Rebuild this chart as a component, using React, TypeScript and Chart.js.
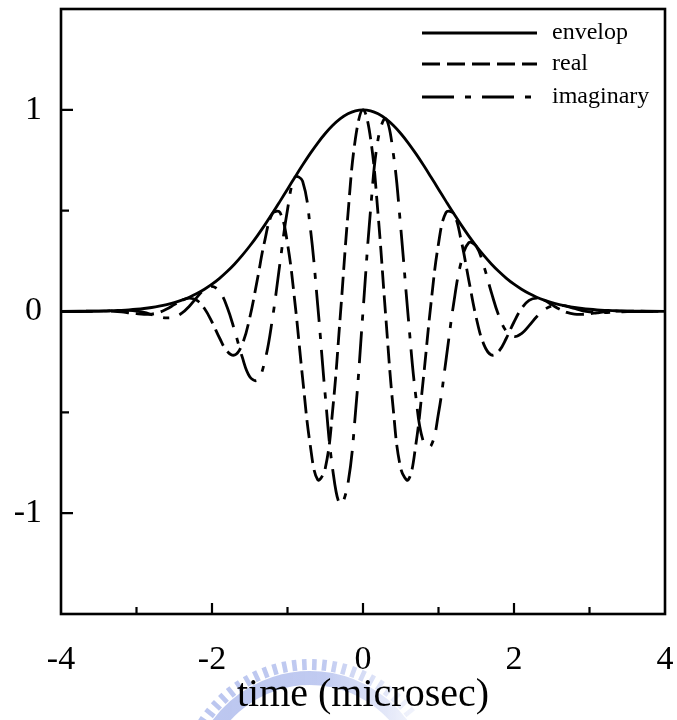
import React, { useEffect, useRef } from 'react';
import { Chart, registerables } from 'chart.js';

Chart.register(...registerables);

// time axis samples (microsec)
const time = [
  -4, -3.5, -3.4, -3.3, -3.2, -3.1, -3.0, -2.9, -2.8, -2.7, -2.6, -2.5, -2.4, -2.3, -2.2, -2.1,
  -2.0, -1.9, -1.8, -1.7, -1.6, -1.5, -1.4, -1.3, -1.2, -1.1, -1.0, -0.9, -0.8, -0.7, -0.6, -0.5,
  -0.4, -0.3, -0.2, -0.1, 0, 0.1, 0.2, 0.3, 0.4, 0.5, 0.6, 0.7, 0.8, 0.9, 1.0, 1.1, 1.2, 1.3, 1.4,
  1.5, 1.6, 1.7, 1.8, 1.9, 2.0, 2.1, 2.2, 2.3, 2.4, 2.5, 2.6, 2.7, 2.8, 2.9, 3.0, 3.1, 3.2, 3.3,
  3.4, 3.5, 4,
];

const envelop = [
  0.0003, 0.0022, 0.0031, 0.0043, 0.006, 0.0082, 0.0111, 0.0149, 0.0198, 0.0261, 0.034, 0.0439,
  0.0561, 0.071, 0.0889, 0.1103, 0.1353, 0.1645, 0.1979, 0.2357, 0.278, 0.3247, 0.3753, 0.4296,
  0.4868, 0.5461, 0.6065, 0.667, 0.7261, 0.7827, 0.8353, 0.8825, 0.9231, 0.956, 0.9802, 0.995, 1.0,
  0.995, 0.9802, 0.956, 0.9231, 0.8825, 0.8353, 0.7827, 0.7261, 0.667, 0.6065, 0.5461, 0.4868,
  0.4296, 0.3753, 0.3247, 0.278, 0.2357, 0.1979, 0.1645, 0.1353, 0.1103, 0.0889, 0.071, 0.0561,
  0.0439, 0.034, 0.0261, 0.0198, 0.0149, 0.0111, 0.0082, 0.006, 0.0043, 0.0031, 0.0022, 0.0003,
];

const real = [
  0.0, 0.0021, 0.0021, 0.0009, -0.0019, -0.0062, -0.0109, -0.0141, -0.0128, -0.0045, 0.0119, 0.034,
  0.0554, 0.066, 0.0548, 0.0148, -0.0521, -0.1314, -0.1966, -0.2157, -0.1629, -0.0311, 0.1578,
  0.3529, 0.4854, 0.491, 0.3362, 0.0384, -0.3304, -0.6597, -0.8347, -0.778, -0.4819, -0.0184,
  0.4792, 0.8585, 1.0, 0.8585, 0.4792, -0.0184, -0.4819, -0.778, -0.8347, -0.6597, -0.3304, 0.0384,
  0.3362, 0.491, 0.4854, 0.3529, 0.1578, -0.0311, -0.1629, -0.2157, -0.1966, -0.1314, -0.0521,
  0.0148, 0.0548, 0.066, 0.0554, 0.034, 0.0119, -0.0045, -0.0128, -0.0141, -0.0109, -0.0062,
  -0.0019, 0.0009, 0.0021, 0.0021, 0.0,
];

const imaginary = [
  0.0, 0.0006, 0.0023, 0.0042, 0.0057, 0.0054, 0.0021, -0.0049, -0.0151, -0.0257, -0.0319, -0.0277,
  -0.0086, 0.0261, 0.07, 0.1093, 0.1248, 0.0989, 0.0227, -0.095, -0.2253, -0.3232, -0.3405, -0.245,
  -0.0373, 0.2391, 0.5048, 0.6659, 0.6466, 0.4213, 0.0321, -0.4165, -0.7874, -0.9558, -0.8551,
  -0.503, 0.0, 0.503, 0.8551, 0.9558, 0.7874, 0.4165, -0.0321, -0.4213, -0.6466, -0.6659, -0.5048,
  -0.2391, 0.0373, 0.245, 0.3405, 0.3232, 0.2253, 0.095, -0.0227, -0.0989, -0.1248, -0.1093, -0.07,
  -0.0261, 0.0086, 0.0277, 0.0319, 0.0257, 0.0151, 0.0049, -0.0021, -0.0054, -0.0057, -0.0042,
  -0.0023, -0.0006, 0.0,
];

const seriesLabels = ['envelop', 'real', 'imaginary'];
const xAxisTitle = 'time (microsec)';
const xRange = [-4, 4];
const yRange = [-1.5, 1.5];

const FONT = "'Liberation Serif', 'Times New Roman', serif";

// faint watermark gear behind the axis title
const logoPlugin = {
  id: 'logoWatermark',
  beforeDraw(chart: any) {
    const { ctx, chartArea: a } = chart;
    const cx = a.left + 249;
    const cy = a.bottom + 178;
    const R = 133;
    const grad = ctx.createLinearGradient(cx - R, 0, cx + R, 0);
    grad.addColorStop(0, 'rgba(130,150,226,0.55)');
    grad.addColorStop(0.55, 'rgba(130,150,226,0.5)');
    grad.addColorStop(0.85, 'rgba(130,150,226,0.15)');
    grad.addColorStop(1, 'rgba(130,150,226,0.05)');
    ctx.save();
    ctx.strokeStyle = grad;
    ctx.fillStyle = grad;
    ctx.lineWidth = 14;
    ctx.beginPath();
    ctx.arc(cx, cy, R - 19, -Math.PI / 2 - 1.1, -Math.PI / 2 + 1.0);
    ctx.stroke();
    ctx.beginPath();
    for (let ang = -0.98; ang <= 0.9; ang += 0.078) {
      const s = Math.sin(ang);
      const c = Math.cos(ang);
      const px = (dx: number, dy: number) => [cx + dx * c - dy * s, cy + dx * s + dy * c];
      const p1 = px(-2.3, -R);
      const p2 = px(2.3, -R);
      const p3 = px(2.3, -R + 11);
      const p4 = px(-2.3, -R + 11);
      ctx.moveTo(p1[0], p1[1]);
      ctx.lineTo(p2[0], p2[1]);
      ctx.lineTo(p3[0], p3[1]);
      ctx.lineTo(p4[0], p4[1]);
      ctx.closePath();
    }
    ctx.fill();
    ctx.restore();
  },
};

const framePlugin = {
  id: 'frameTicks',
  afterDatasetsDraw(chart: any) {
    const { ctx, chartArea: a, scales } = chart;
    const x = scales.x;
    const y = scales.y;
    ctx.save();
    ctx.setLineDash([]);
    ctx.strokeStyle = '#000';
    ctx.lineWidth = 2.6;
    ctx.strokeRect(a.left, a.top, a.right - a.left, a.bottom - a.top);
    ctx.lineWidth = 2.2;
    ctx.beginPath();
    y.ticks.forEach((t: any) => {
      if (t.value <= y.min || t.value >= y.max) return;
      const py = y.getPixelForValue(t.value);
      const len = Number.isInteger(t.value) ? 12 : 8;
      ctx.moveTo(a.left, py);
      ctx.lineTo(a.left + len, py);
    });
    x.ticks.forEach((t: any) => {
      if (t.value <= x.min || t.value >= x.max) return;
      const px = x.getPixelForValue(t.value);
      const len = t.value % 2 === 0 ? 11 : 7;
      ctx.moveTo(px, a.bottom);
      ctx.lineTo(px, a.bottom - len);
    });
    ctx.stroke();
    ctx.restore();
  },
};

const legendPlugin = {
  id: 'insideLegend',
  afterDraw(chart: any) {
    const { ctx, chartArea: a } = chart;
    const x1 = a.right - 243;
    const x2 = a.right - 128;
    const tx = a.right - 113;
    const rows = [a.top + 24, a.top + 55, a.top + 88];
    ctx.save();
    chart.data.datasets.forEach((ds: any, i: number) => {
      const yy = rows[i];
      ctx.strokeStyle = ds.borderColor;
      ctx.lineWidth = 3;
      ctx.setLineDash(ds.borderDash || []);
      ctx.beginPath();
      ctx.moveTo(x1, yy);
      ctx.lineTo(x2, yy);
      ctx.stroke();
      ctx.setLineDash([]);
      ctx.fillStyle = '#000';
      ctx.font = `24px ${FONT}`;
      ctx.textAlign = 'left';
      ctx.textBaseline = 'middle';
      ctx.fillText(ds.label, tx, yy);
    });
    ctx.restore();
  },
};

export default function App() {
  const canvasRef = useRef<HTMLCanvasElement | null>(null);

  useEffect(() => {
    document.body.style.margin = '0';
    const canvas = canvasRef.current;
    if (!canvas) return;
    const toPts = (vals: number[]) => time.map((t, i) => ({ x: t, y: vals[i] }));
    const chart = new Chart(canvas, {
      type: 'line',
      data: {
        datasets: [
          {
            label: seriesLabels[0],
            data: toPts(envelop),
            borderColor: '#000',
            borderWidth: 2.8,
            borderDash: [],
            pointRadius: 0,
            tension: 0.4,
            fill: false,
          },
          {
            label: seriesLabels[1],
            data: toPts(real),
            borderColor: '#000',
            borderWidth: 2.8,
            borderDash: [18, 7],
            pointRadius: 0,
            tension: 0.4,
            fill: false,
          },
          {
            label: seriesLabels[2],
            data: toPts(imaginary),
            borderColor: '#000',
            borderWidth: 2.8,
            borderDash: [32, 11, 6, 11],
            pointRadius: 0,
            tension: 0.4,
            fill: false,
          },
        ],
      },
      options: {
        responsive: false,
        animation: false,
        events: [],
        layout: { padding: { top: 9, right: 12, left: 0, bottom: 0 } },
        plugins: {
          legend: { display: false },
          tooltip: { enabled: false },
          title: { display: false },
        },
        scales: {
          x: {
            type: 'linear',
            min: xRange[0],
            max: xRange[1],
            afterFit: (s: any) => {
              s.height = 106;
              s.paddingLeft = 0;
              s.paddingRight = 0;
            },
            grid: { display: false, drawTicks: false },
            border: { display: false },
            ticks: {
              stepSize: 1,
              autoSkip: false,
              maxRotation: 0,
              padding: 26,
              color: '#000',
              font: { family: FONT, size: 34 },
              callback: (v: any) => (Number(v) % 2 === 0 ? String(v) : ''),
            },
            title: {
              display: true,
              text: xAxisTitle,
              color: '#000',
              font: { family: FONT, size: 40, lineHeight: 1.2 },
              padding: { top: 0, bottom: 1 },
            },
          },
          y: {
            type: 'linear',
            min: yRange[0],
            max: yRange[1],
            afterFit: (s: any) => {
              s.width = 61;
              s.paddingTop = 0;
              s.paddingBottom = 0;
            },
            grid: { display: false, drawTicks: false },
            border: { display: false },
            ticks: {
              stepSize: 0.5,
              autoSkip: false,
              padding: 19,
              color: '#000',
              font: { family: FONT, size: 34 },
              callback: (v: any) => (Number.isInteger(Number(v)) ? String(v) : ''),
            },
          },
        },
      },
      plugins: [logoPlugin, framePlugin, legendPlugin],
    } as any);
    return () => chart.destroy();
  }, []);

  return (
    <div style={{ width: 677, height: 720 }}>
      <canvas ref={canvasRef} width={677} height={720} style={{ display: 'block', width: 677, height: 720 }} />
    </div>
  );
}
